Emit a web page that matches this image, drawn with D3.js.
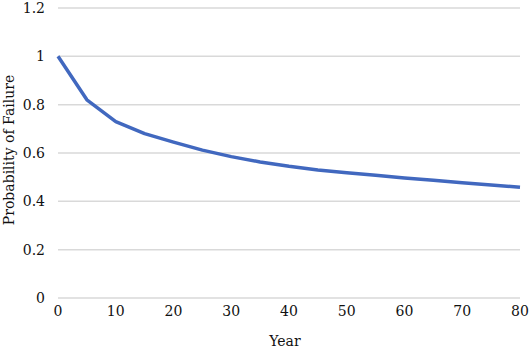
<!DOCTYPE html>
<html>
<head>
<meta charset="utf-8">
<script src="https://cdn.jsdelivr.net/npm/d3@7"></script>
<style>
  body { margin: 0; background: #fff; }
</style>
</head>
<body>
<div id="chart"></div>
<script>
// Years and probability of failure
let years = [0, 5, 10, 15, 20, 25, 30, 35, 40, 45, 50, 55, 60, 65, 70, 75, 80];
let failure = [1.0, 0.82, 0.73, 0.68, 0.645, 0.612, 0.585, 0.563, 0.545, 0.53, 0.518, 0.508, 0.497, 0.487, 0.477, 0.468, 0.458];
let xTicks = [0, 10, 20, 30, 40, 50, 60, 70, 80];
let yTicks = [0, 0.2, 0.4, 0.6, 0.8, 1, 1.2];

let width = 532,
    height = 351;
let margin = {top: 8, right: 12, bottom: 53, left: 58};
let serif = "'DejaVu Serif', serif";

let svg = d3.select("#chart")
    .append("svg")
    .attr("width", width)
    .attr("height", height)
    .attr("fill", "#111");

let x = d3.scaleLinear()
    .domain([0, 80])
    .range([margin.left, width - margin.right]);

let y = d3.scaleLinear()
    .domain([0, 1.2])
    .range([height - margin.bottom, margin.top]);

// horizontal gridlines
svg.append("g")
    .selectAll("line")
    .data(yTicks)
    .enter()
    .append("line")
    .attr("x1", x(0))
    .attr("x2", x(80))
    .attr("y1", d => y(d))
    .attr("y2", d => y(d))
    .attr("stroke", "#d9d9d9")
    .attr("stroke-width", 1.5);

// y tick labels
svg.append("g")
    .selectAll("text")
    .data(yTicks)
    .enter()
    .append("text")
    .attr("x", 45)
    .attr("y", d => y(d) + 5)
    .attr("text-anchor", "end")
    .attr("font-family", serif)
    .attr("font-size", 14)
    .text(d => d);

// x tick labels
svg.append("g")
    .selectAll("text")
    .data(xTicks)
    .enter()
    .append("text")
    .attr("x", d => x(d))
    .attr("y", 316)
    .attr("text-anchor", "middle")
    .attr("font-family", serif)
    .attr("font-size", 14)
    .text(d => d);

// axis titles
svg.append("text")
    .attr("x", x(40) - 4)
    .attr("y", 346)
    .attr("text-anchor", "middle")
    .attr("font-family", serif)
    .attr("font-size", 14)
    .text("Year");

svg.append("text")
    .attr("transform", `translate(14, ${(y(0) + y(1.2)) / 2 - 3}) rotate(-90)`)
    .attr("text-anchor", "middle")
    .attr("font-family", serif)
    .attr("font-size", 14)
    .text("Probability of Failure");

// the curve
let line = d3.line()
    .x((d, i) => x(years[i]))
    .y(d => y(d));

svg.append("path")
    .datum(failure)
    .attr("fill", "none")
    .attr("stroke", "#4168bf")
    .attr("stroke-width", 3.5)
    .attr("stroke-linejoin", "round")
    .attr("d", line);
</script>
</body>
</html>
